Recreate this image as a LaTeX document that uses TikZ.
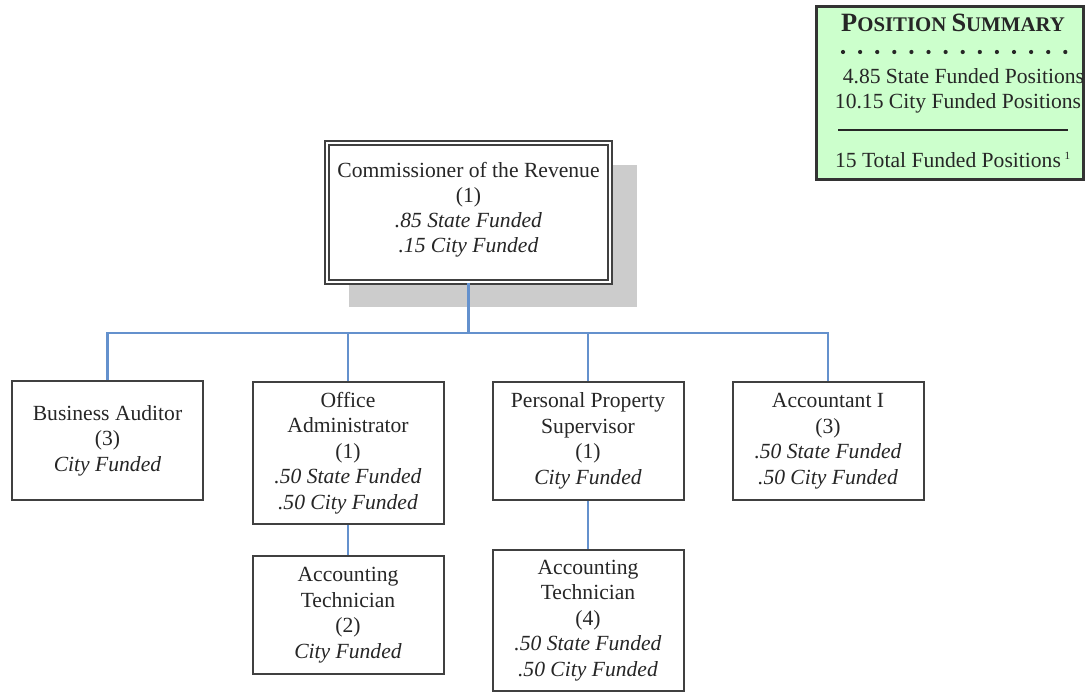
\documentclass[tikz,border=0pt]{standalone}
\usepackage{fontspec}
\setmainfont{Liberation Serif}
\usetikzlibrary{shadows, calc}
\definecolor{linkblue}{RGB}{100,145,205}
\definecolor{sumgreen}{RGB}{204,255,204}
\newcommand{\capbig}{\fontsize{13.2}{14}\selectfont}
\newcommand{\capsmall}{\fontsize{10.4}{14}\selectfont}

\begin{document}
\begin{tikzpicture}[x=0.5pt, y=-0.5pt,
            posbox/.style={draw=black!75, line width=1pt, fill=white, minimum width=95.5pt, minimum height=59pt,
                align=center, inner sep=2pt, text=black!85, font=\fontsize{10.8}{12.8}\selectfont},
            link/.style={draw=linkblue, line width=1.1pt},
            sumtext/.style={align=center, inner sep=0pt, text=black!85, font=\fontsize{10.8}{12.2}\selectfont}]
            \useasboundingbox (0,0) rectangle (1085,694);
            % top position
            \node[posbox, minimum width=141.5pt, minimum height=69.5pt, line width=0.8pt, double=white, double distance=1.2pt,
                font=\fontsize{10.8}{12.4}\selectfont,
                drop shadow={shadow xshift=12pt, shadow yshift=-11.5pt, shadow scale=1.02, fill=gray!40, opacity=1}]
                (comm) at (468.5,212.5) {Commissioner of the Revenue\\(1)\\\textit{.85 State Funded}\\\textit{.15 City Funded}\rule[-5pt]{0pt}{5pt}};
            % second row
            \node[posbox] (ba) at (107.5,440.5) {Business Auditor\\(3)\\\textit{City Funded}};
            \node[posbox, minimum height=71pt] (oa) at (348,453) {Office\\Administrator\\(1)\\\textit{.50 State Funded}\\\textit{.50 City Funded}};
            \node[posbox] (pp) at (588,441) {Personal Property\\Supervisor\\(1)\\\textit{City Funded}};
            \node[posbox] (ai) at (828,441) {Accountant I\\(3)\\\textit{.50 State Funded}\\\textit{.50 City Funded}};
            % third row
            \node[posbox] (at2) at (348,615) {Accounting\\Technician\\(2)\\\textit{City Funded}};
            \node[posbox, minimum height=70.5pt] (at4) at (588,620.5) {Accounting\\Technician\\(4)\\\textit{.50 State Funded}\\\textit{.50 City Funded}};
            % connectors
            \coordinate (bus) at (468.5,333);
            \draw[link] (comm.south) -- (bus);
            \foreach \n in {ba,oa,pp,ai} { \draw[link] (bus) -| (\n.north); }
            \draw[link] (oa) -- (at2);
            \draw[link] (pp) -- (at4);
            % position summary
            \node[draw=black!80, line width=1.5pt, fill=sumgreen, minimum width=133.5pt, minimum height=86.5pt] (sum) at (950,93) {};
            \node[sumtext] (sumtitle) at (953,23) {\textbf{\capbig P\capsmall OSITION \capbig S\capsmall UMMARY}};
            \foreach \i in {0,...,13} { \fill[black!85] ({843+\i*17.1},52) circle (1.05pt); }
            \node[sumtext] (sumlines) at (958,91) {\phantom{1}4.85 State Funded Positions\\10.15 City Funded Positions};
            \coordinate (rulel) at (838,130);
            \coordinate (ruler) at (1068,130);
            \draw[black!85, line width=1.4pt] (rulel) -- (ruler);
            \node[sumtext] (sumtotal) at (953,160) {15 Total Funded Positions\,\textsuperscript{\fontsize{5.5}{6}\selectfont 1}};
        \end{tikzpicture}
\end{document}
